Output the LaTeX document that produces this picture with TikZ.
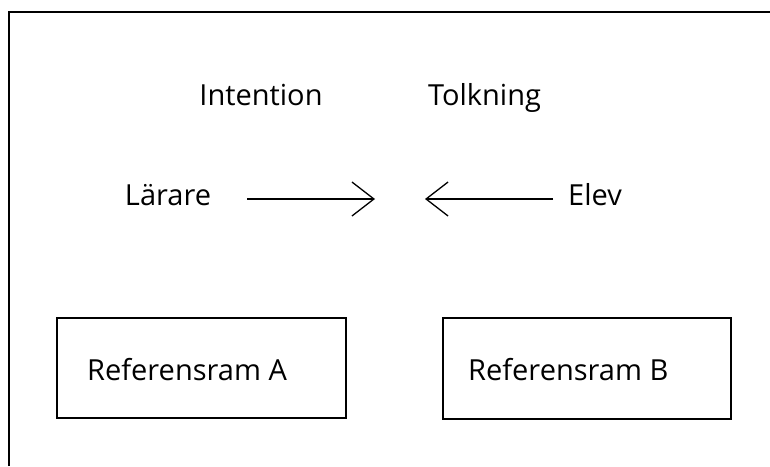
\documentclass[tikz,border=0pt]{standalone}
\usepackage{fontspec}
\setmainfont{Open Sans}
\usetikzlibrary{arrows.meta}
\begin{document}
\begin{tikzpicture}[x=1pt,y=-1pt,
  lbl/.style={font=\fontsize{29}{31}\selectfont, inner sep=0pt, anchor=base},
  frame/.style={line width=2pt, black},
  refbox/.style={draw, line width=2pt},
  conn/.style={line width=1.3pt, -{Straight Barb[length=22pt, width=34pt, line width=1.3pt]}}]
\useasboundingbox (0,0) rectangle (770,466);
% outer frame (only top and left visible)
\coordinate (fbl) at (8.5,466);
\coordinate (ftl) at (8.5,11.5);
\coordinate (ftr) at (770,11.5);
\draw[frame] (fbl) -- (ftl) -- (ftr);
% top labels
\node[lbl] (int) at (261,105) {Intention};
\node[lbl] (tol) at (484.5,105) {Tolkning};
% middle labels
\node[lbl] (lar) at (168,205) {Lärare};
\node[lbl] (elv) at (595,205) {Elev};
% arrow endpoints
\coordinate (a1s) at (247,199);
\coordinate (a1e) at (375,199);
\coordinate (a2s) at (553,199);
\coordinate (a2e) at (425,199);
\draw[conn] (a1s) -- (a1e);
\draw[conn] (a2s) -- (a2e);
% reference frames
\draw[refbox] (57,318) rectangle (346,418);
\draw[refbox] (443,318) rectangle (731,419);
\node[lbl, anchor=base west] (ra) at (87,380) {Referensram A};
\node[lbl, anchor=base west] (rb) at (468,380) {Referensram B};
\end{tikzpicture}
\end{document}
